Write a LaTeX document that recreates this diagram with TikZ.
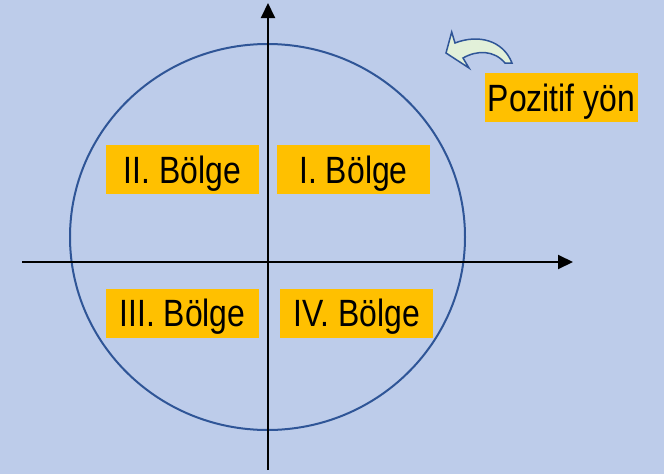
\documentclass[tikz,border=0pt]{standalone}
\usepackage{fontspec}
\setmainfont{Liberation Sans}[FakeStretch=0.84]
\usetikzlibrary{arrows.meta}
\definecolor{bgblue}{RGB}{189,204,234}
\definecolor{circblue}{RGB}{47,85,151}
\definecolor{boxgold}{RGB}{255,192,0}
\definecolor{arrgreen}{RGB}{226,240,217}
\tikzset{
  axis/.style={line width=2pt, black, -{Triangle[length=15pt,width=14pt]}},
  labelbox/.style={fill=boxgold, inner sep=0pt, minimum width=153pt, minimum height=49pt,
    text height=27pt, text depth=0pt, font=\fontsize{38}{40}\selectfont},
}
\begin{document}
\begin{tikzpicture}[x=1pt,y=-1pt]
\fill[bgblue] (0,0) rectangle (664,474);
\useasboundingbox (0,0) rectangle (664,474);
% circle
\draw[circblue, line width=2pt] (267.5,237) ellipse [x radius=197.5, y radius=193];
% axes
\coordinate (xs) at (22,262);
\coordinate (xe) at (573,262);
\coordinate (ys) at (268,470);
\coordinate (ye) at (268,3);
\draw[axis] (xs) -- (xe);
\draw[axis] (ys) -- (ye);
% labels
\node[labelbox] (q2) at (182.5,169.5) {II. Bölge};
\node[labelbox] (q1) at (353.5,169.5) {I. Bölge};
\node[labelbox] (q3) at (182.5,313) {III. Bölge};
\node[labelbox] (q4) at (356.5,313) {IV. Bölge};
\node[labelbox] (pos) at (561.5,97.5) {Pozitif yön};
% curved arrow
\draw[circblue, fill=arrgreen, line width=1.5pt, line join=miter]
  (446,53) -- (451.7,32) -- (455,43)
  .. controls (478,34) and (503,40) .. (512,63)
  -- (505,63)
  .. controls (494,50) and (477,50) .. (463,58)
  -- (469,68) -- cycle;
\end{tikzpicture}
\end{document}
